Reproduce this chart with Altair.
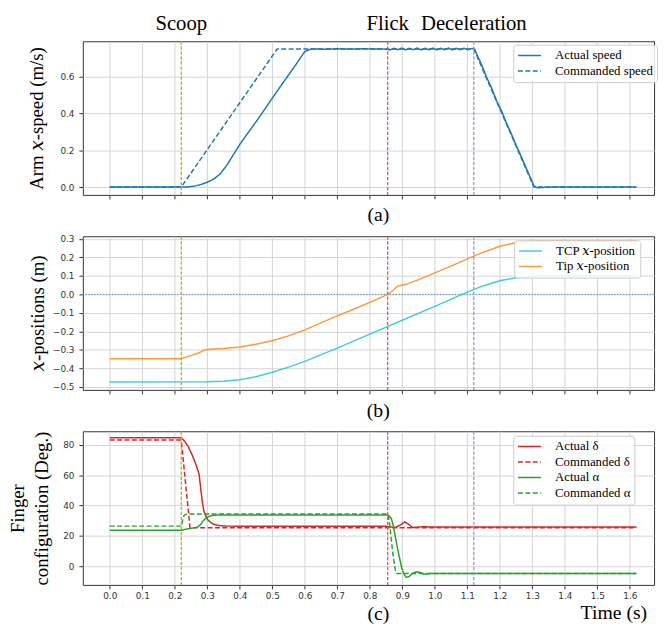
import altair as alt
import pandas as pd

SERIF = "Liberation Serif, DejaVu Serif, serif"
SANS = "DejaVu Sans"

# ---------------- data ----------------
event_t = [0.22, 0.855, 1.12]
event_label = ["Scoop", "Flick", "Deceleration"]
event_color = ["#b5b01c", "#e05a5a", "#a88ad4"]

x_ticks = [0.0, 0.1, 0.2, 0.3, 0.4, 0.5, 0.6, 0.7, 0.8, 0.9, 1.0, 1.1, 1.2, 1.3, 1.4, 1.5, 1.6]
y1_ticks = [0.0, 0.2, 0.4, 0.6]
y2_ticks = [-0.5, -0.4, -0.3, -0.2, -0.1, 0.0, 0.1, 0.2, 0.3]
y3_ticks = [0, 20, 40, 60, 80]

# panel (a): arm x-speed
speed_names = ["Actual speed", "Commanded speed"]
speed_colors = ["#1f77b4", "#1f77b4"]
speed_act_t = [0.00, 0.22, 0.24, 0.26, 0.28, 0.30, 0.32, 0.34, 0.36, 0.38,
               0.40, 0.42, 0.45, 0.48, 0.51, 0.54, 0.57, 0.60, 0.62, 0.66,
               0.70, 0.74, 0.78, 0.82, 0.85,
               0.862, 0.874, 0.886, 0.898, 0.910, 0.922, 0.934, 0.946, 0.958, 0.970, 0.982,
               0.994, 1.006, 1.018, 1.030, 1.042, 1.054, 1.066, 1.078, 1.090, 1.102, 1.114,
               1.122, 1.132, 1.145, 1.160, 1.175, 1.190, 1.205, 1.220, 1.235, 1.250, 1.265,
               1.280, 1.295, 1.305, 1.315, 1.330, 1.360, 1.620]
speed_act_v = [0.000, 0.000, 0.001, 0.005, 0.014, 0.026, 0.044, 0.072, 0.118, 0.175,
               0.232, 0.282, 0.355, 0.432, 0.510, 0.585, 0.660, 0.738, 0.752, 0.751,
               0.753, 0.751, 0.753, 0.752, 0.751,
               0.747, 0.756, 0.748, 0.757, 0.747, 0.756, 0.748, 0.757, 0.747, 0.756, 0.748,
               0.757, 0.747, 0.756, 0.748, 0.757, 0.747, 0.756, 0.748, 0.756, 0.748, 0.755,
               0.752, 0.712, 0.662, 0.595, 0.538, 0.470, 0.415, 0.350, 0.292, 0.228, 0.170,
               0.108, 0.048, 0.006, -0.004, -0.002, 0.000, 0.000]
speed_cmd_t = [0.00, 0.22, 0.515, 1.12, 1.305, 1.62]
speed_cmd_v = [0.000, 0.000, 0.752, 0.752, 0.000, 0.000]

# panel (b): x-positions
pos_names = ["TCP 𝑥-position", "Tip 𝑥-position"]
pos_colors = ["#17becf", "#ff7f0e"]
tcp_t = [0.00, 0.30, 0.35, 0.40, 0.45, 0.50, 0.55, 0.60, 0.70, 0.80,
         0.90, 1.00, 1.10, 1.15, 1.20, 1.25, 1.30, 1.35, 1.62]
tcp_v = [-0.473, -0.472, -0.469, -0.461, -0.445, -0.421, -0.393, -0.362, -0.290, -0.215,
         -0.140, -0.065, 0.012, 0.047, 0.074, 0.090, 0.097, 0.099, 0.099]
tip_t = [0.00, 0.22, 0.24, 0.26, 0.27, 0.28, 0.29, 0.30, 0.35, 0.40,
         0.45, 0.50, 0.55, 0.60, 0.65, 0.70, 0.75, 0.80, 0.855, 0.865,
         0.875, 0.885, 0.895, 0.91, 0.95, 1.00, 1.05, 1.10, 1.12, 1.15,
         1.20, 1.25, 1.30, 1.35, 1.62]
tip_v = [-0.348, -0.348, -0.336, -0.324, -0.319, -0.311, -0.302, -0.298, -0.292, -0.284,
         -0.269, -0.250, -0.224, -0.192, -0.154, -0.116, -0.080, -0.043, 0.000, 0.013,
         0.028, 0.043, 0.048, 0.053, 0.080, 0.116, 0.153, 0.192, 0.207, 0.228,
         0.260, 0.280, 0.288, 0.290, 0.290]

# panel (c): finger configuration
fing_names = ["Actual δ", "Commanded δ", "Actual α", "Commanded α"]
fing_colors = ["#d62728", "#d62728", "#2ca02c", "#2ca02c"]
dact_t = [0.00, 0.22, 0.23, 0.24, 0.25, 0.26, 0.27, 0.275, 0.28, 0.285,
          0.29, 0.30, 0.31, 0.32, 0.335, 0.36, 0.50, 0.70, 0.85, 0.865,
          0.88, 0.895, 0.907, 0.92, 0.932, 0.95, 0.968, 0.985, 1.20, 1.62]
dact_v = [84.7, 84.7, 82.5, 79.5, 75.0, 70.0, 64.0, 60.5, 51.0, 42.0,
          36.0, 31.0, 28.8, 27.6, 26.8, 26.4, 26.3, 26.3, 26.3, 25.8,
          25.6, 27.2, 29.2, 27.5, 25.5, 25.8, 26.1, 25.8, 25.8, 25.8]
dcmd_t = [0.00, 0.22, 0.247, 1.62]
dcmd_v = [83.2, 83.2, 25.3, 25.3]
aact_t = [0.00, 0.22, 0.225, 0.24, 0.26, 0.27, 0.28, 0.287, 0.295, 0.305,
          0.315, 0.33, 0.35, 0.60, 0.855, 0.86, 0.866, 0.872, 0.878, 0.885,
          0.892, 0.898, 0.904, 0.912, 0.92, 0.928, 0.936, 0.944, 0.955, 0.968,
          0.98, 1.00, 1.62]
aact_v = [23.6, 23.6, 23.9, 24.6, 25.3, 25.8, 27.5, 29.8, 31.5, 32.8,
          33.4, 33.7, 33.8, 33.8, 33.8, 33.0, 31.5, 27.0, 20.0, 12.0,
          5.0, -1.0, -4.8, -7.5, -7.0, -5.5, -4.3, -3.7, -4.2, -5.4,
          -5.0, -4.8, -4.8]
acmd_t = [0.00, 0.221, 0.226, 0.232, 0.24, 0.856, 0.862, 0.87, 0.878, 0.882, 1.62]
acmd_v = [26.4, 26.4, 32.5, 34.0, 34.4, 34.4, 26.0, 10.0, -2.0, -4.8, -4.8]

panel_letters = ["(a)", "(b)", "(c)"]
time_title = ["Time (s)"]

# ---------------- helpers ----------------
W, H = 580, 156
X_DOMAIN = [-0.0827, 1.6745]
SOLID, DASH = [1, 0], [5, 2.5]
LEG_X = 437


def long_df(names, ts, vs):
    rows = []
    for n, t, v in zip(names, ts, vs):
        rows += [{"series": n, "t": a, "v": b} for a, b in zip(t, v)]
    return pd.DataFrame(rows)


events_df = pd.DataFrame({"t": event_t, "name": event_label})


def x_enc(show_labels, title, title_y):
    return alt.X("t:Q",
                 scale=alt.Scale(domain=X_DOMAIN, nice=False, zero=False),
                 axis=alt.Axis(values=x_ticks, labels=show_labels, format=".1f",
                               title=title, titleX=299.5, titleY=title_y,
                               titleBaseline="alphabetic", titleAlign="center",
                               titleFontSize=20, labelPadding=3))


def y_enc(domain, ticks, fmt, title, title_x, field="v:Q"):
    return alt.Y(field,
                 scale=alt.Scale(domain=domain, nice=False, zero=False),
                 axis=alt.Axis(values=ticks, format=fmt, title=title,
                               titleX=title_x, titleY=H / 2, titleAngle=270,
                               titleBaseline="alphabetic", titleAlign="center",
                               titleLineHeight=24, labelPadding=5))


def legend(names, lx, ly):
    return alt.Legend(title=None, orient="none", legendX=lx, legendY=ly, values=names)


def line_layer(df, names, colors, X, Y, lx, ly, opacity=1.0):
    return alt.Chart(df).mark_line(strokeWidth=1.5, opacity=opacity).encode(
        x=X, y=Y,
        color=alt.Color("series:N", scale=alt.Scale(domain=names, range=colors),
                        legend=legend(names, lx, ly)),
        strokeDash=alt.StrokeDash("series:N",
                                  scale=alt.Scale(domain=names,
                                                  range=[SOLID, DASH] * (len(names) // 2)),
                                  legend=legend(names, lx, ly)),
    )


def event_rules(X):
    return alt.Chart(events_df).mark_rule(strokeWidth=1.3, strokeDash=[3.5, 1.6]).encode(
        x=X,
        stroke=alt.Stroke("name:N", scale=alt.Scale(domain=event_label, range=event_color),
                          legend=None),
    )


# ---------------- panel (a) ----------------
X1 = x_enc(False, panel_letters[0], 26)
Y1 = y_enc([-0.0426, 0.794], y1_ticks, ".1f", "Arm 𝑥-speed (m/s)", -40.5)
speed_df = long_df(speed_names, [speed_act_t, speed_cmd_t], [speed_act_v, speed_cmd_v])
p1_lines = line_layer(speed_df, speed_names, speed_colors, X1, Y1, LEG_X, 3.5)
p1_text = alt.Chart(events_df).mark_text(font=SERIF, fontSize=21, baseline="alphabetic",
                                         align="center", color="black").encode(
    x=X1, y=alt.value(-11), text="name:N")
p1 = alt.layer(p1_lines, event_rules(X1), p1_text).properties(width=W, height=H)

# ---------------- panel (b) ----------------
X2 = x_enc(False, panel_letters[1], 27)
Y2 = y_enc([-0.516, 0.314], y2_ticks, ".1f", "𝑥-positions (m)", -40.0)
pos_df = long_df(pos_names, [tcp_t, tip_t], [tcp_v, tip_v])
p2_lines = alt.Chart(pos_df).mark_line(strokeWidth=1.5, opacity=0.8).encode(
    x=X2, y=Y2,
    color=alt.Color("series:N", scale=alt.Scale(domain=pos_names, range=pos_colors),
                    legend=legend(pos_names, LEG_X + 1, 4)))
zero_df = pd.DataFrame({"v": [0.0]})
p2_zero = alt.Chart(zero_df).mark_rule(strokeWidth=1.2, strokeDash=[1.5, 1.5],
                                       color="#5b8fc0", opacity=0.8).encode(y=Y2)
p2 = alt.layer(p2_zero, p2_lines, event_rules(X2)).properties(width=W, height=H)

# ---------------- panel (c) ----------------
X3 = x_enc(True, panel_letters[2], 35)
Y3 = y_enc([-12.4, 89.0], y3_ticks, "d", ["Finger", "configuration (Deg.)"], -60)
fing_df = long_df(fing_names, [dact_t, dcmd_t, aact_t, acmd_t],
                  [dact_v, dcmd_v, aact_v, acmd_v])
p3_lines = line_layer(fing_df, fing_names, fing_colors, X3, Y3, LEG_X, 4.5)
time_df = pd.DataFrame({"label": time_title})
p3_time = alt.Chart(time_df).mark_text(font=SERIF, fontSize=20, baseline="alphabetic",
                                       align="right", color="black").encode(
    x=alt.value(573), y=alt.value(H + 35), text="label:N")
p3 = alt.layer(p3_lines, event_rules(X3), p3_time).properties(width=W, height=H)

chart = alt.vconcat(p1, p2, p3, spacing=42, bounds="flush").resolve_scale(
    color="independent", strokeDash="independent", stroke="independent"
).resolve_legend(
    color="independent", strokeDash="independent", stroke="independent"
).properties(
    padding=0
).configure_view(
    stroke="#333333", strokeWidth=1
).configure_axis(
    labelFont=SANS, labelFontSize=9, labelColor="#333333",
    tickColor="#333333", tickSize=4, tickWidth=1,
    gridColor="#d3d3d3", gridWidth=1, domain=False,
    titleFont=SERIF, titleFontSize=19, titleFontWeight="normal", titleColor="black",
).configure_legend(
    labelFont=SERIF, labelFontSize=13, labelColor="black", labelOffset=19,
    fillColor="rgba(255,255,255,0.85)", strokeColor="#cccccc", cornerRadius=3,
    padding=4, rowPadding=1.7, symbolType="M-1.9,0H1.9", symbolSize=150,
    symbolOffset=5.5, symbolStrokeWidth=1.5,
)

chart.save("out.html", embed_options={"renderer": "svg", "actions": False})
